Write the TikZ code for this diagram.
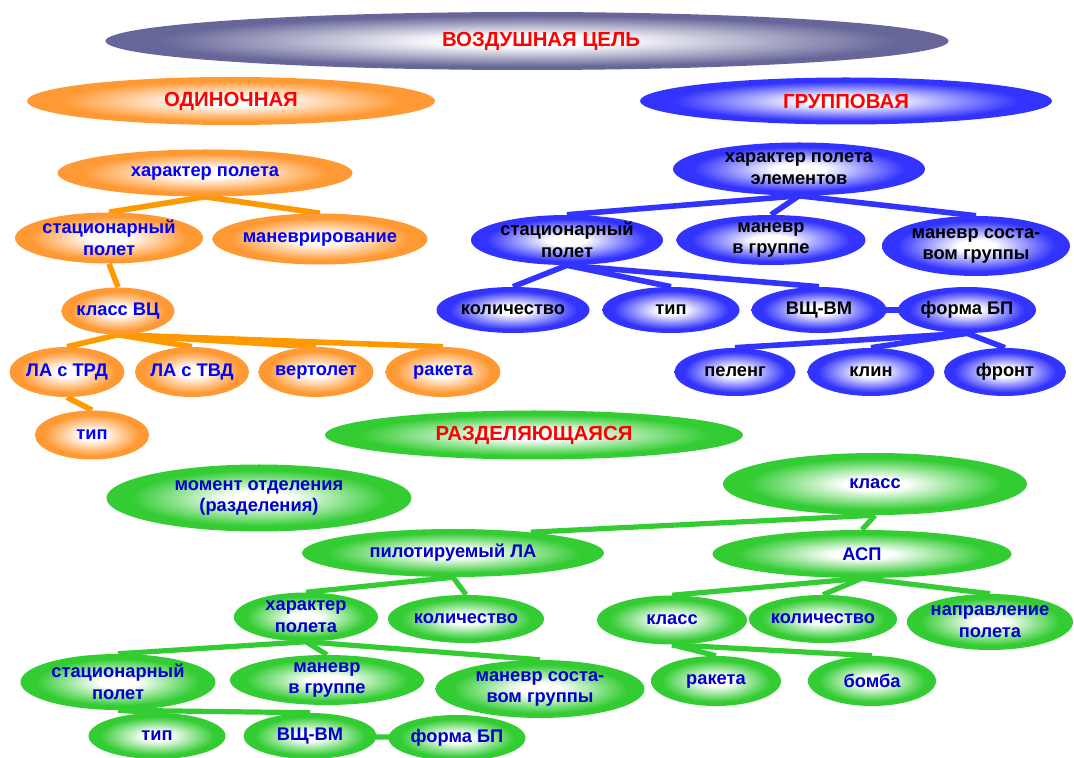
\documentclass[tikz,border=0pt]{standalone}
\usepackage{fontspec}
\setmainfont{Liberation Sans}
\usetikzlibrary{shapes.geometric,backgrounds}
\definecolor{ovslate}{RGB}{102,102,153}
\definecolor{ovorange}{RGB}{255,153,51}
\definecolor{ovblue}{RGB}{51,51,255}
\definecolor{ovgreen}{RGB}{51,204,51}
\definecolor{lnorange}{RGB}{255,153,0}
\definecolor{txtgreen}{RGB}{0,0,204}
\pgfdeclareradialshading{slateglow}{\pgfpointorigin}{color(0bp)=(white); color(5bp)=(white); color(22bp)=(ovslate); color(50bp)=(ovslate)}
\pgfdeclareradialshading{orangeglow}{\pgfpointorigin}{color(0bp)=(white); color(5bp)=(white); color(21bp)=(ovorange); color(50bp)=(ovorange)}
\pgfdeclareradialshading{blueglow}{\pgfpointorigin}{color(0bp)=(white); color(5bp)=(white); color(21bp)=(ovblue); color(50bp)=(ovblue)}
\pgfdeclareradialshading{greenglow}{\pgfpointorigin}{color(0bp)=(white); color(5bp)=(white); color(21bp)=(ovgreen); color(50bp)=(ovgreen)}

\begin{document}
\begin{tikzpicture}[x=0.25mm, y=-0.25mm,
    oval/.style={ellipse, shade, inner xsep=-2mm, inner ysep=-2mm, align=center, font=\fontsize{13}{15.5}\selectfont\bfseries},
    orangeoval/.style={oval, shading=orangeglow, text=blue},
    blueoval/.style={oval, shading=blueglow, text=black},
    greenoval/.style={oval, shading=greenglow, text=txtgreen},
    headoval/.style={font=\fontsize{14.5}{17}\selectfont\bfseries, text=red},
    orangeline/.style={lnorange, line width=1.4mm},
    blueline/.style={ovblue, line width=1.4mm},
    greenline/.style={ovgreen, line width=1.3mm}]
  \useasboundingbox (0,0) rectangle (1074,758);

  % head
  \node[oval, headoval, shading=slateglow, minimum width=210.75mm, minimum height=14.5mm] (vc) at (527,41) {\hspace*{7mm}ВОЗДУШНАЯ ЦЕЛЬ};
  \node[orangeoval, headoval, minimum width=102mm, minimum height=12mm] (odin) at (231,101) {ОДИНОЧНАЯ};
  \node[blueoval, headoval, minimum width=103mm, minimum height=11.75mm] (grup) at (846,101) {ГРУППОВАЯ};
  \node[greenoval, headoval, minimum width=104.5mm, minimum height=12.25mm] (razd) at (534,435) {РАЗДЕЛЯЮЩАЯСЯ};

  % single
  \node[orangeoval, minimum width=73.75mm, minimum height=11.75mm] (ohp) at (205,173) {характер полета};
  \node[orangeoval, minimum width=47mm, minimum height=12.75mm] (osp) at (109,238) {стационарный\\полет};
  \node[orangeoval, minimum width=53.75mm, minimum height=12.75mm] (oman) at (320,239) {маневрирование};
  \node[orangeoval, minimum width=28.25mm, minimum height=11.75mm] (okvc) at (118,311) {класс ВЦ};
  \node[orangeoval, minimum width=28.75mm, minimum height=12.5mm] (olatrd) at (67,372) {ЛА с ТРД};
  \node[orangeoval, minimum width=28.5mm, minimum height=12.5mm] (olatvd) at (192,372) {ЛА с ТВД};
  \node[orangeoval, minimum width=28.75mm, minimum height=12.5mm] (overt) at (316,372) {вертолет};
  \node[orangeoval, minimum width=28.75mm, minimum height=12.5mm] (orak) at (443,372) {ракета};
  \node[orangeoval, minimum width=28.5mm, minimum height=12.25mm] (otip) at (92,435) {тип};

  % group
  \node[blueoval, minimum width=63mm, minimum height=13.25mm] (bhp) at (799,169) {характер полета\\элементов};
  \node[blueoval, minimum width=48mm, minimum height=12.5mm] (bsp) at (567,240) {стационарный\\полет};
  \node[blueoval, minimum width=47.25mm, minimum height=12.5mm] (bman) at (771,240) {маневр\\в группе};
  \node[blueoval, minimum width=47mm, minimum height=15mm] (bms) at (976,246) {маневр соста-\\вом группы};
  \node[blueoval, minimum width=38.25mm, minimum height=11.5mm] (bkol) at (513,310) {количество};
  \node[blueoval, minimum width=34.25mm, minimum height=11.5mm] (btip) at (671,310) {тип};
  \node[blueoval, minimum width=33.75mm, minimum height=11.5mm] (bvv) at (819,310) {ВЩ-ВМ};
  \node[blueoval, minimum width=34.5mm, minimum height=11.5mm] (bform) at (967,310) {форма БП};
  \node[blueoval, minimum width=30.25mm, minimum height=12mm] (bpel) at (735,372) {пеленг};
  \node[blueoval, minimum width=31.75mm, minimum height=12mm] (bklin) at (871,372) {клин};
  \node[blueoval, minimum width=30.5mm, minimum height=12mm] (bfront) at (1005,372) {фронт};

  % separating
  \node[greenoval, minimum width=76.25mm, minimum height=16.75mm] (gmom) at (259,498) {момент отделения\\(разделения)};
  \node[greenoval, minimum width=76mm, minimum height=15.5mm] (gkl) at (875,484) {класс};
  \node[greenoval, minimum width=75.5mm, minimum height=12mm] (gpla) at (453,553) {пилотируемый ЛА};
  \node[greenoval, minimum width=74.75mm, minimum height=12mm] (gasp) at (862,554) {АСП};
  \node[greenoval, minimum width=36mm, minimum height=12.25mm] (ghp) at (306,617) {характер\\полета};
  \node[greenoval, minimum width=39mm, minimum height=12mm] (gkol) at (466,619) {количество};
  \node[greenoval, minimum width=37.5mm, minimum height=12.25mm] (gkl2) at (672,620) {класс};
  \node[greenoval, minimum width=37mm, minimum height=12mm] (gkol2) at (823,619) {количество};
  \node[greenoval, minimum width=41.5mm, minimum height=14mm] (gnap) at (990,622) {направление\\полета};
  \node[greenoval, minimum width=48.75mm, minimum height=14mm] (gsp) at (118,682) {стационарный\\полет};
  \node[greenoval, minimum width=48.5mm, minimum height=12.5mm] (gman) at (327,680) {маневр\\в группе};
  \node[greenoval, minimum width=52.25mm, minimum height=14.5mm] (gms) at (540,689) {маневр соста-\\вом группы};
  \node[greenoval, minimum width=32.5mm, minimum height=12.5mm] (grak) at (716,681) {ракета};
  \node[greenoval, minimum width=32mm, minimum height=12.5mm] (gbomb) at (872,681) {бомба};
  \node[greenoval, minimum width=34.25mm, minimum height=11.5mm] (gtip) at (157,736) {тип};
  \node[greenoval, minimum width=33.25mm, minimum height=11.5mm] (gvv) at (310,736) {ВЩ-ВМ};
  \node[greenoval, minimum width=34.25mm, minimum height=11.5mm] (gform) at (457,738) {форма БП};

  \begin{scope}[on background layer]
    \foreach \a/\b in {ohp/osp, ohp/oman, osp/okvc, okvc/olatrd, okvc/olatvd, okvc/overt, okvc/orak, olatrd/otip}
      \draw[orangeline] (\a.south) -- (\b.north);
    \foreach \a/\b in {bhp/bsp, bhp/bman, bhp/bms, bsp/bkol, bsp/btip, bsp/bvv, bform/bpel, bform/bklin, bform/bfront}
      \draw[blueline] (\a.south) -- (\b.north);
    \draw[blueline] (bvv.center) -- (bform.center);
    \draw[greenline] (gkl.south) -- (gpla.15);
    \foreach \a/\b in {gkl/gasp, gpla/ghp, gpla/gkol, ghp/gsp, ghp/gman, ghp/gms, gsp/gtip, gsp/gvv, gasp/gkl2, gasp/gkol2, gasp/gnap, gkl2/grak, gkl2/gbomb}
      \draw[greenline] (\a.south) -- (\b.north);
    \draw[greenline] (gvv.center) -- (gform.center);
  \end{scope}
\end{tikzpicture}
\end{document}
